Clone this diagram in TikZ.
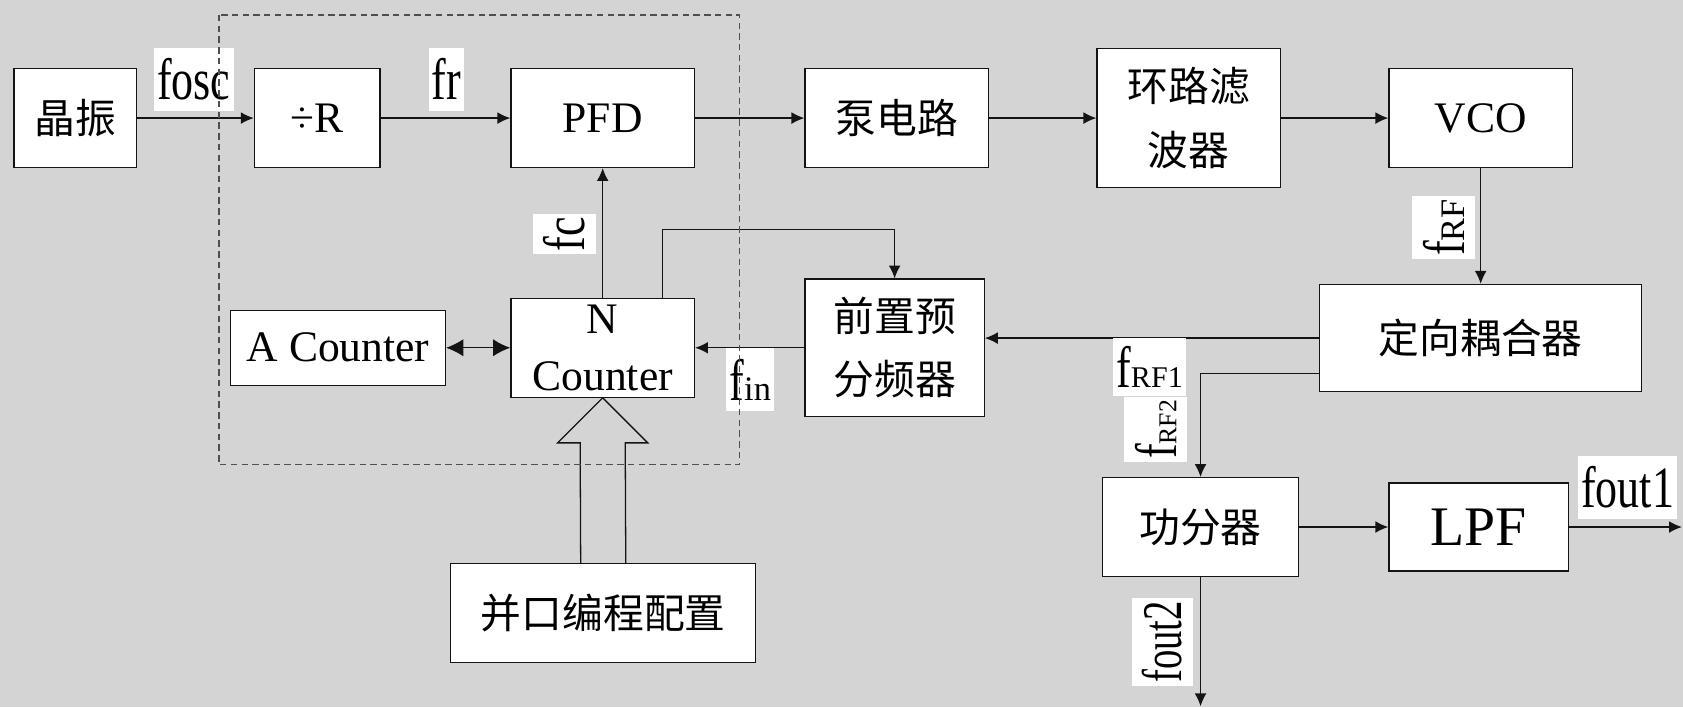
\documentclass[tikz,border=0pt]{standalone}
\usepackage{fontspec}
\usepackage{graphicx}
\setmainfont{Liberation Serif}
\newfontfamily\cjk{Noto Sans CJK SC}
\usetikzlibrary{arrows.meta,calc}
\newcommand\tl[1]{\scalebox{1}[1.33]{#1}}
\newcommand\subtxt[2][14]{{\fontsize{#1}{#1}\selectfont #2}}
\definecolor{bgc}{RGB}{212,212,212}
\definecolor{ink}{RGB}{20,20,20}
\begin{document}
\begin{tikzpicture}[x=0.5pt,y=-0.5pt,
  blk/.style={draw=ink, fill=white, line width=0.6pt, inner sep=0pt, font=\fontsize{20.3}{26.5}\selectfont, align=center},
  cjkblk/.style={blk, font=\cjk\fontsize{19}{29.5}\selectfont},
  lbl/.style={fill=white, inner xsep=1.5pt, inner ysep=5pt, anchor=base, font=\fontsize{20.5}{20.5}\selectfont},
  conn/.style={line width=0.6pt, draw=ink, -{Latex[length=6pt,width=5.5pt]}},
  dbl/.style={line width=0.6pt, draw=ink, {Latex[length=8pt,width=8pt]}-{Latex[length=8pt,width=8pt]}},
  hollow/.style={line width=0.6pt, draw=ink},
  frame/.style={draw=ink!75, line width=0.5pt, dash pattern=on 3pt off 2pt},
]
\fill[bgc] (0,0) rectangle (1568,659);
\useasboundingbox (0,0) rectangle (1568,659);

% blocks
\node[cjkblk, minimum width=57pt, minimum height=46pt] (osc) at (70,110) {晶振};
\node[blk, minimum width=58.5pt, minimum height=46pt] (divr) at (295.5,110) {÷R};
\node[blk, minimum width=85.5pt, minimum height=46pt] (pfd) at (561.5,110) {PFD};
\node[cjkblk, minimum width=85.5pt, minimum height=46pt] (pump) at (835.5,110) {泵电路};
\node[cjkblk, minimum width=85.5pt, minimum height=64.5pt] (lf) at (1107.5,110) {环路滤\\波器};
\node[blk, minimum width=85.5pt, minimum height=46pt] (vco) at (1379.5,110) {VCO};
\node[cjkblk, minimum width=150pt, minimum height=50pt] (cpl) at (1379.5,315) {定向耦合器};
\node[cjkblk, minimum width=83.5pt, minimum height=64pt] (pre) at (833.5,324) {前置预\\分频器};
\node[blk, minimum width=85.5pt, minimum height=46pt] (ncnt) at (561.5,324) {N\\Counter};
\node[blk, minimum width=100pt, minimum height=35pt] (acnt) at (315,324) {A Counter};
\node[cjkblk, minimum width=142pt, minimum height=46pt] (par) at (562,571) {并口编程配置};
\node[cjkblk, minimum width=91.5pt, minimum height=46pt] (split) at (1118.5,491) {功分器};
\node[blk, minimum width=83.5pt, minimum height=41pt, font=\fontsize{26}{26}\selectfont] (lpf) at (1377.5,491) {LPF};

% helper coordinates
\coordinate (lpA) at (617,214);
\coordinate (y348) at (0,348);
\coordinate (o1) at (1567,491);
\coordinate (o2) at (1118.5,658);

% connectors
\draw[conn] (osc) -- (divr);
\draw[conn] (divr) -- (pfd);
\draw[conn] (pfd) -- (pump);
\draw[conn] (pump) -- (lf);
\draw[conn] (lf) -- (vco);
\draw[conn] (vco) -- (cpl);
\draw[conn] (cpl.west) -- (cpl.west -| pre.east);
\draw[conn] (pre) -- (ncnt);
\draw[conn] (ncnt) -- (pfd);
\draw[conn] (ncnt.north -| lpA) -- (lpA) -| (pre.north);
\draw[dbl] (acnt) -- (ncnt);
\draw[conn] (cpl.west |- y348) -| (split.north);
\draw[conn] (split) -- (lpf);
\draw[conn] (lpf) -- (o1);
\draw[conn] (split) -- (o2);
\draw[hollow] ($(par.north)+(-21,0)$) -- ($(ncnt.south)+(-21,42)$) -- ($(ncnt.south)+(-42,42)$)
  -- (ncnt.south) -- ($(ncnt.south)+(42,42)$) -- ($(ncnt.south)+(21,42)$) -- ($(par.north)+(21,0)$);

% labels
\node[lbl] (lfosc) at (180.5,93) {\tl{fosc}};
\node[lbl] (lfr) at (416,93) {\tl{fr}};
\node[lbl, rotate=90] (lfc) at (545,218) {\tl{fc}};
\node[lbl] (lfin) at (699,373) {\tl{f}\subtxt[16]{in}};
\node[lbl, rotate=90] (lfrf) at (1364,212) {\tl{f}\subtxt[16]{RF}};
\node[lbl, rotate=90] (lfrf2) at (1096,400) {\tl{f}\subtxt[12]{RF2}};
\node[lbl, inner ysep=4pt] (lfrf1) at (1071,361) {\tl{f}\subtxt{RF1}};
\node[lbl] (lfo1) at (1516.5,473) {\tl{fout1}};
\node[lbl, rotate=90, font=\fontsize{18}{18}\selectfont] (lfo2) at (1101,598) {\scalebox{1}[1.45]{fout2}};

% dashed frame
\draw[frame] (204,14) rectangle (689,433);
\end{tikzpicture}
\end{document}
